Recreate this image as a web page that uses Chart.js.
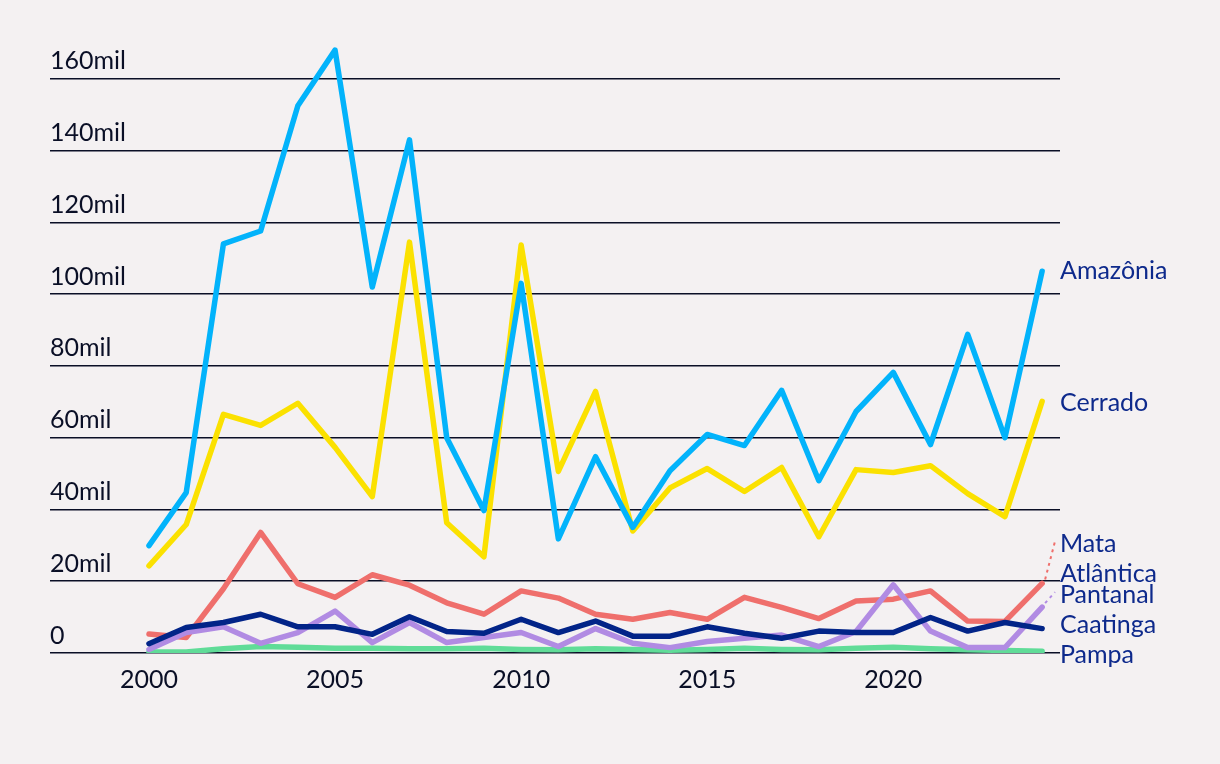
<!DOCTYPE html>
<html>
<head>
<meta charset="utf-8">
<script src="https://cdn.jsdelivr.net/npm/chart.js@4"></script>
<style>
  html, body { margin: 0; padding: 0; background: #f4f1f2; }
  canvas { display: block; }
</style>
</head>
<body>
<canvas id="myChart" width="1220" height="764"></canvas>
<script>
// dados (focos de calor por bioma, 2000-2024)
const years = [2000, 2001, 2002, 2003, 2004, 2005, 2006, 2007, 2008, 2009, 2010, 2011, 2012,
    2013, 2014, 2015, 2016, 2017, 2018, 2019, 2020, 2021, 2022, 2023, 2024];

const amazonia = [29900, 44700, 114000, 117600, 152500, 168000, 102000, 143000, 60000, 39700,
    103000, 31800, 54700, 35000, 50800, 60900, 57800, 73200, 48000, 67300, 78200, 58100, 88800, 60000, 106400];
const cerrado = [24300, 35800, 66500, 63400, 69600, 57300, 43600, 114500, 36300, 26800,
    113700, 50600, 72900, 34000, 46000, 51400, 45000, 51700, 32400, 51100, 50300, 52200, 44400, 38000, 70100];
const mataAtlantica = [5300, 4300, 17900, 33600, 19300, 15500, 21800, 18900, 14000, 10800,
    17300, 15300, 10800, 9400, 11300, 9400, 15500, 12700, 9600, 14500, 15000, 17300, 8900, 8800, 19400];
const caatinga = [2600, 7100, 8500, 10800, 7300, 7300, 5200, 10100, 6000, 5500,
    9400, 5700, 8900, 4700, 4700, 7300, 5500, 4100, 6100, 5700, 5700, 9900, 6100, 8500, 6800];
const pantanal = [1000, 5700, 7300, 2700, 5700, 11700, 2900, 8500, 2900, 4300,
    5700, 1800, 6800, 2700, 1500, 3200, 4100, 5000, 1800, 6000, 19000, 6100, 1500, 1500, 12800];
const pampa = [300, 300, 1200, 1800, 1600, 1300, 1300, 1200, 1200, 1300,
    1000, 900, 1200, 1000, 800, 1000, 1300, 1000, 900, 1300, 1600, 1200, 900, 700, 500];

const xTicks = [2000, 2005, 2010, 2015, 2020];
const yTicks = [0, 20000, 40000, 60000, 80000, 100000, 120000, 140000, 160000];

const FONT = "Lato, 'Open Sans', sans-serif";
const TEXT_COLOR = "#0a0f26";
const LABEL_COLOR = "#0e2a8c";

// rotulos a direita: deslocamento vertical e linha-guia
const endLabels = {
    "Amazônia": { dy: 0 },
    "Cerrado": { dy: 1 },
    "Mata Atlântica": { dy: -24, lines: ["Mata", "Atlântica"], leader: true },
    "Pantanal": { dy: -12, leader: true },
    "Caatinga": { dy: -4 },
    "Pampa": { dy: 4 }
};

function toPoints(values){
    return values.map((v, i) => ({ x: years[i], y: v }));
}

function makeDataset(label, values, color){
    return {
        label: label,
        data: toPoints(values),
        borderColor: color,
        backgroundColor: color,
        borderWidth: 5.5,
        borderCapStyle: "round",
        borderJoinStyle: "round",
        pointRadius: 0,
        tension: 0,
        fill: false
    };
}

const endLabelPlugin = {
    id: "endLabels",
    afterDatasetsDraw(chart){
        const ctx = chart.ctx;
        const right = chart.chartArea.right;
        ctx.save();
        ctx.font = `25px ${FONT}`;
        ctx.fillStyle = LABEL_COLOR;
        ctx.textAlign = "left";
        ctx.textBaseline = "middle";
        chart.data.datasets.forEach((ds, i) => {
            const meta = chart.getDatasetMeta(i);
            const last = meta.data[meta.data.length - 1];
            const conf = endLabels[ds.label] || { dy: 0 };
            const lines = conf.lines || [ds.label];
            const cy = last.y + conf.dy;
            const lineH = 30;
            const top = cy - (lines.length - 1) * lineH / 2;
            if (conf.leader){
                ctx.save();
                ctx.strokeStyle = ds.borderColor;
                ctx.lineWidth = 2;
                ctx.setLineDash([3, 4]);
                ctx.beginPath();
                ctx.moveTo(last.x + 3, last.y - 4);
                ctx.lineTo(right - 5, top - 3);
                ctx.stroke();
                ctx.restore();
            }
            lines.forEach((t, k) => {
                ctx.fillText(t, right, top + k * lineH);
            });
        });
        ctx.restore();
    }
};

function createChart(){
    new Chart("myChart", {
        type: "line",
        data: {
            datasets: [
                makeDataset("Amazônia", amazonia, "#02b3fb"),
                makeDataset("Cerrado", cerrado, "#fbe100"),
                makeDataset("Caatinga", caatinga, "#022488"),
                makeDataset("Pantanal", pantanal, "#b18be3"),
                makeDataset("Mata Atlântica", mataAtlantica, "#ef6f6c"),
                makeDataset("Pampa", pampa, "#60dc98")
            ]
        },
        options: {
            responsive: false,
            animation: false,
            layout: {
                padding: { left: 50, right: 160, top: 25, bottom: 58 }
            },
            plugins: {
                legend: { display: false },
                tooltip: { enabled: false },
                title: { display: false }
            },
            scales: {
                x: {
                    type: "linear",
                    min: 1997.34,
                    max: 2024.48,
                    grid: { display: false, drawTicks: false },
                    border: { display: false },
                    afterBuildTicks: (scale) => {
                        scale.ticks = xTicks.map(v => ({ value: v }));
                    },
                    ticks: {
                        padding: 11.5,
                        color: TEXT_COLOR,
                        font: { family: FONT, size: 25 },
                        callback: (v) => String(v),
                        maxRotation: 0,
                        autoSkip: false
                    }
                },
                y: {
                    min: 0,
                    max: 175000,
                    grid: { color: TEXT_COLOR, lineWidth: 1.5, drawTicks: false },
                    border: { display: false },
                    afterBuildTicks: (scale) => {
                        scale.ticks = yTicks.map(v => ({ value: v }));
                    },
                    ticks: {
                        mirror: true,
                        padding: 0,
                        labelOffset: -17.5,
                        color: TEXT_COLOR,
                        font: { family: FONT, size: 25 },
                        callback: (v) => v === 0 ? "0" : `${v / 1000}mil`
                    }
                }
            }
        },
        plugins: [endLabelPlugin]
    });
}

createChart();
</script>
</body>
</html>
